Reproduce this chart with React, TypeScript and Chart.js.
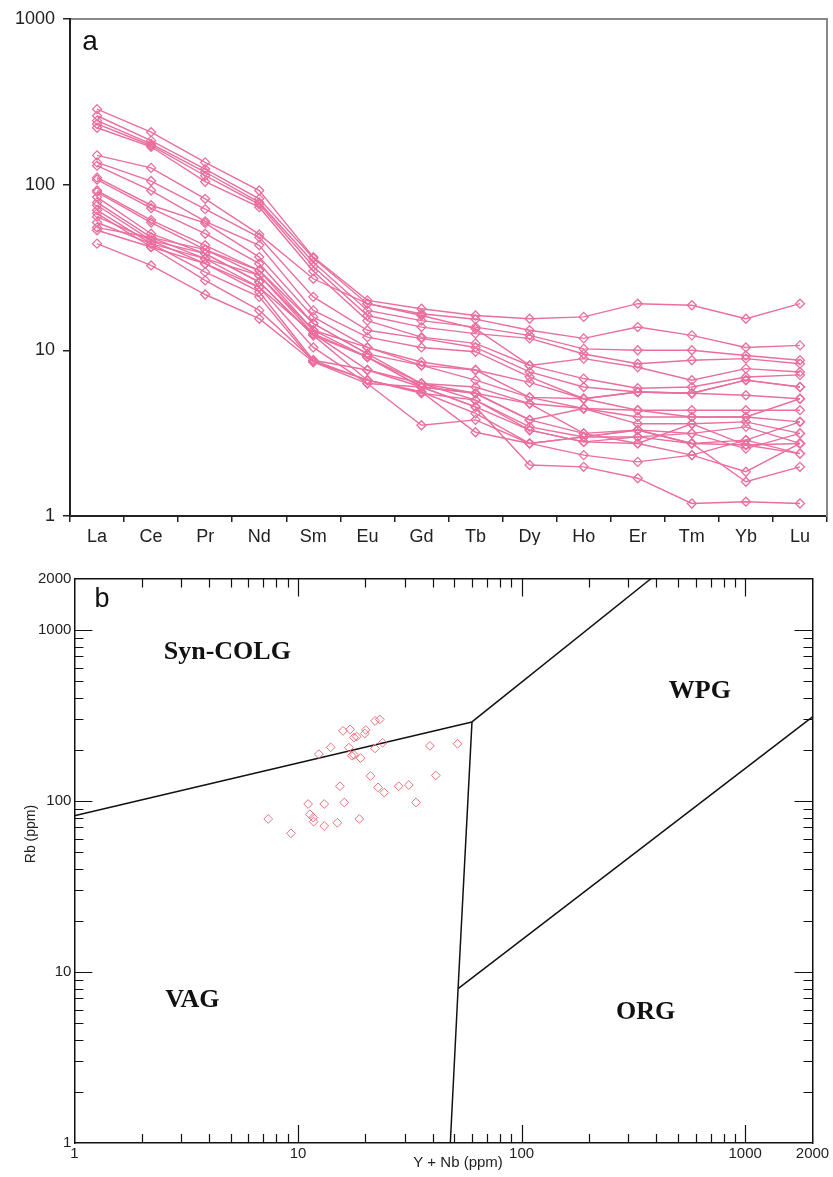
import React, { useEffect, useRef } from "react";
import { Chart, registerables } from "chart.js";

Chart.register(...registerables);

// ---------- Panel a: chondrite-normalised REE patterns ----------
const elements = ["La", "Ce", "Pr", "Nd", "Sm", "Eu", "Gd", "Tb", "Dy", "Ho", "Er", "Tm", "Yb", "Lu"];
const reeTickValues = [1, 10, 100, 1000];

const sample01 = [285, 207, 136, 92, 36.5, 20, 17.8, 16.2, 15.5, 15.9, 19.1, 18.7, 15.5, 19.1];
const sample02 = [260, 184, 124, 82, 36, 19.1, 16.6, 15.4, 13.2, 11.8, 13.8, 12.3, 10.4, 10.7];
const sample03 = [243, 176, 119, 78, 34, 17.4, 15.1, 13.8, 12.3, 10.2, 10.0, 10.0, 9.3, 8.7];
const sample04 = [232, 172, 113, 76, 32, 16.2, 13.8, 12.6, 11.8, 9.5, 8.3, 8.7, 8.9, 8.3];
const sample05 = [220, 169, 104, 73, 30, 15.1, 12, 11, 8.1, 8.9, 7.9, 6.6, 7.75, 7.4];
const sample06 = [150, 126, 82, 50, 27, 19.1, 16.2, 13.5, 8.1, 6.75, 5.9, 6.0, 6.9, 7.1];
const sample07 = [136, 105, 71, 48, 21, 13.2, 11.8, 10.4, 7.4, 6.0, 5.6, 5.5, 6.6, 6.0];
const sample08 = [130, 92, 60, 43, 17.4, 12, 10.4, 9.8, 6.9, 5.1, 5.6, 5.5, 5.35, 5.1];
const sample09 = [110, 75, 58.5, 36.5, 15.9, 10.4, 8.5, 7.6, 6.4, 5.1, 4.35, 4.35, 4.35, 4.35];
const sample10 = [107, 72, 50.5, 33.3, 14.5, 9.5, 8.1, 6.6, 5.2, 4.45, 3.96, 3.96, 3.96, 3.7];
const sample11 = [92, 61, 43, 30.3, 13.2, 9.1, 6.3, 6.0, 4.77, 4.45, 3.6, 3.6, 3.7, 3.15];
const sample12 = [90, 59, 40.5, 28.3, 12.6, 7.6, 6.0, 5.5, 3.8, 3.15, 3.3, 3.15, 3.45, 2.74];
const sample13 = [84, 50.5, 38.3, 25.8, 12.3, 6.6, 5.5, 5.0, 3.45, 3.0, 3.0, 2.74, 2.87, 2.38];
const sample14 = [78, 48, 35.7, 24, 10.4, 6.3, 6.0, 4.55, 3.3, 2.8, 2.74, 3.6, 2.68, 2.74];
const sample15 = [75, 46, 33.3, 22.5, 8.7, 6.6, 5.6, 4.16, 2.74, 2.33, 2.12, 2.33, 1.85, 2.74];
const sample16 = [70, 44, 29.6, 21, 8.5, 6.3, 3.53, 3.8, 2.74, 3.0, 3.3, 2.74, 1.61, 1.98];
const sample17 = [67, 42, 26.4, 17.4, 8.7, 7.6, 6.3, 5.0, 3.3, 2.8, 3.0, 3.15, 2.55, 3.15];
const sample18 = [64, 46, 38.3, 25.8, 12.3, 9.1, 6.0, 5.5, 3.8, 4.45, 4.35, 3.96, 3.96, 5.1];
const sample19 = [59, 44, 35.7, 28.3, 13.2, 10.4, 8.1, 7.6, 5.2, 5.1, 5.6, 5.5, 6.6, 6.0];
const sample20 = [55, 48, 40.5, 30.3, 14.5, 9.5, 6.3, 5.5, 4.77, 3.15, 2.74, 2.33, 2.87, 3.7];
const sample21 = [53, 42, 33.3, 24, 12.6, 9.1, 6.0, 4.55, 2.03, 1.98, 1.69, 1.19, 1.22, 1.19];
const sample22 = [44, 32.5, 21.7, 15.5, 8.5, 6.6, 5.6, 3.2, 2.74, 3.0, 3.3, 2.74, 2.68, 2.38];

const reeSamples = [
  sample01, sample02, sample03, sample04, sample05, sample06, sample07, sample08,
  sample09, sample10, sample11, sample12, sample13, sample14, sample15, sample16,
  sample17, sample18, sample19, sample20, sample21, sample22,
];

// ---------- Panel b: Rb vs (Y + Nb) ----------
const yPlusNb = [
  15.9, 17.1, 17.8, 18.3, 20.1, 19.9, 22.1, 23.2, 14.0, 12.4, 16.9, 17.4, 17.8, 19.05,
  22.1, 23.9, 38.9, 51.7, 21.1, 15.4, 22.8, 24.3, 28.2, 31.3, 41.3, 33.7, 11.1, 13.1,
  16.1, 7.36, 11.3, 11.7, 11.75, 13.1, 15.0, 18.8, 9.3,
];
const rbPpm = [
  257, 262, 235, 238, 260, 248, 294, 300, 206, 188, 205, 184, 186, 178,
  203, 219, 210, 216, 140, 122, 120, 112, 122, 124, 141, 98, 96, 96,
  98, 78.5, 83.6, 80, 75.7, 71.4, 74.6, 78.5, 64.7,
];

const discTickValues = [1, 10, 100, 1000, 2000];

const lineVagSynX = [1, 60];
const lineVagSynY = [82, 290];
const lineSynWpgX = [60, 380];
const lineSynWpgY = [290, 2000];
const lineVagOrgX = [60, 52, 48];
const lineVagOrgY = [290, 8, 1];
const lineWpgOrgX = [52, 2000];
const lineWpgOrgY = [8, 310];

const regionNames = ["Syn-COLG", "WPG", "VAG", "ORG"];
const regionX = [4.83, 627, 3.37, 359];
const regionY = [743, 440, 6.86, 5.83];

const SANS = 'Arial, "Liberation Sans", sans-serif';
const SERIF = '"Times New Roman", "Liberation Serif", serif';
const REE_COLOR = "rgb(234,110,158)";
const DOT_COLOR = "rgb(232,112,124)";

const pairs = (xs: number[], ys: number[]) => xs.map((x, i) => ({ x, y: ys[i] }));

const minorLogVals: number[] = [];
for (const d of [1, 10, 100, 1000]) {
  for (let k = 2; k <= 9; k++) if (k * d < 2000) minorLogVals.push(k * d);
}
const majorLogVals = [10, 100, 1000];

const panelALabel = {
  id: "panelALabel",
  afterDraw(chart: any) {
    const { ctx } = chart;
    ctx.save();
    ctx.fillStyle = "#111";
    ctx.font = `28px ${SANS}`;
    ctx.textAlign = "center";
    ctx.textBaseline = "middle";
    ctx.fillText("a", 90, 42);
    ctx.restore();
  },
};

const panelBDecor = {
  id: "panelBDecor",
  afterDraw(chart: any) {
    const { ctx, chartArea } = chart;
    const { left, right, top, bottom } = chartArea;
    const sx = chart.scales.x;
    const sy = chart.scales.y;
    ctx.save();
    ctx.strokeStyle = "#111";
    ctx.lineWidth = 1.2;
    ctx.beginPath();
    const drawTicks = (vals: number[], len: number) => {
      for (const v of vals) {
        const px = Math.round(sx.getPixelForValue(v)) + 0.5;
        ctx.moveTo(px, bottom);
        ctx.lineTo(px, bottom - len);
        ctx.moveTo(px, top);
        ctx.lineTo(px, top + len);
        const py = Math.round(sy.getPixelForValue(v)) + 0.5;
        ctx.moveTo(left, py);
        ctx.lineTo(left + len, py);
        ctx.moveTo(right, py);
        ctx.lineTo(right - len, py);
      }
    };
    drawTicks(minorLogVals, 9);
    drawTicks(majorLogVals, 18);
    ctx.stroke();

    ctx.fillStyle = "#111";
    ctx.textAlign = "center";
    ctx.textBaseline = "middle";
    ctx.font = `27px ${SANS}`;
    ctx.fillText("b", 102, 55);

    ctx.font = `bold 26px ${SERIF}`;
    regionNames.forEach((name, i) => {
      ctx.fillText(name, sx.getPixelForValue(regionX[i]), sy.getPixelForValue(regionY[i]));
    });

    ctx.font = `15px ${SANS}`;
    ctx.fillStyle = "#222";
    ctx.fillText("Y + Nb (ppm)", 458, 618);

    ctx.save();
    ctx.translate(31, 289);
    ctx.rotate(-Math.PI / 2);
    ctx.font = `14px ${SANS}`;
    ctx.fillText("Rb (ppm)", 0, 0);
    ctx.restore();
    ctx.restore();
  },
};

function ReeChart() {
  const ref = useRef<HTMLCanvasElement>(null);
  useEffect(() => {
    const chart = new Chart(ref.current!, {
      type: "line",
      data: {
        labels: elements,
        datasets: reeSamples.map((s, i) => ({
          label: `S${i + 1}`,
          data: s,
          borderColor: REE_COLOR,
          borderWidth: 1.4,
          pointStyle: "rectRot",
          pointRadius: 4.5,
          pointBorderColor: REE_COLOR,
          pointBackgroundColor: "rgba(255,255,255,0)",
          pointBorderWidth: 1.3,
          tension: 0,
          fill: false,
        })),
      },
      options: {
        responsive: false,
        animation: false,
        devicePixelRatio: 1,
        layout: { padding: { top: 18, right: 6, left: 0, bottom: 0 } },
        plugins: { legend: { display: false }, tooltip: { enabled: false } },
        scales: {
          x: {
            type: "category",
            position: "bottom",
            offset: true,
            grid: { offset: true, drawOnChartArea: false, drawTicks: true, tickLength: 6, color: "#222", lineWidth: 1.5 },
            border: { display: true, color: "#222", width: 2 },
            ticks: { color: "#222", font: { size: 18, family: SANS }, padding: 4, autoSkip: false, maxRotation: 0 },
            afterFit: (s: any) => { s.height = 29; },
          },
          x2: {
            type: "category",
            position: "top",
            offset: true,
            grid: { display: false, drawOnChartArea: false, drawTicks: false },
            border: { display: true, color: "#888", width: 2 },
            ticks: { display: false },
            afterFit: (s: any) => { s.height = 0; },
          },
          y: {
            type: "logarithmic",
            position: "left",
            min: 1,
            max: 1000,
            grid: { drawOnChartArea: false, drawTicks: true, tickLength: 7, color: "#222", lineWidth: 1.5 },
            border: { display: true, color: "#222", width: 2 },
            ticks: { color: "#222", font: { size: 18, family: SANS }, padding: 8, callback: (v: any) => String(v) },
            afterBuildTicks: (s: any) => { s.ticks = reeTickValues.map((v) => ({ value: v })); },
            afterFit: (s: any) => { s.width = 70; },
          },
          y2: {
            type: "linear",
            position: "right",
            min: 0,
            max: 1,
            grid: { display: false, drawOnChartArea: false, drawTicks: false },
            border: { display: true, color: "#888", width: 2 },
            ticks: { display: false },
            afterFit: (s: any) => { s.width = 0; },
          },
        },
      },
      plugins: [panelALabel],
    } as any);
    return () => chart.destroy();
  }, []);
  return <canvas ref={ref} width={833} height={545} style={{ position: "absolute", left: 0, top: 0 }} />;
}

function DiscriminationChart() {
  const ref = useRef<HTMLCanvasElement>(null);
  useEffect(() => {
    const lineStyle = {
      showLine: true,
      pointRadius: 0,
      borderColor: "#111",
      borderWidth: 1.5,
      fill: false,
      tension: 0,
    };
    const chart = new Chart(ref.current!, {
      type: "scatter",
      data: {
        datasets: [
          {
            label: "samples",
            data: pairs(yPlusNb, rbPpm),
            pointStyle: "rectRot",
            pointRadius: 4.4,
            borderColor: DOT_COLOR,
            backgroundColor: "rgba(255,255,255,0)",
            borderWidth: 1,
          },
          { label: "VAG/syn-COLG", data: pairs(lineVagSynX, lineVagSynY), ...lineStyle },
          { label: "syn-COLG/WPG", data: pairs(lineSynWpgX, lineSynWpgY), ...lineStyle },
          { label: "VAG/ORG", data: pairs(lineVagOrgX, lineVagOrgY), ...lineStyle },
          { label: "WPG/ORG", data: pairs(lineWpgOrgX, lineWpgOrgY), ...lineStyle },
        ],
      },
      options: {
        responsive: false,
        animation: false,
        devicePixelRatio: 1,
        layout: { padding: { top: 33.5, right: 20.5, left: 0, bottom: 0 } },
        plugins: { legend: { display: false }, tooltip: { enabled: false } },
        scales: {
          x: {
            type: "logarithmic",
            position: "bottom",
            min: 1,
            max: 2000,
            grid: { display: false, drawOnChartArea: false, drawTicks: false },
            border: { display: true, color: "#111", width: 1.5 },
            ticks: { color: "#222", font: { size: 15, family: SANS }, padding: 2, maxRotation: 0, autoSkip: false, callback: (v: any) => String(v) },
            afterBuildTicks: (s: any) => { s.ticks = discTickValues.map((v) => ({ value: v })); },
            afterFit: (s: any) => { s.height = 34; },
          },
          x2: {
            type: "linear",
            position: "top",
            min: 0,
            max: 1,
            grid: { display: false, drawOnChartArea: false, drawTicks: false },
            border: { display: true, color: "#111", width: 1.5 },
            ticks: { display: false },
            afterFit: (s: any) => { s.height = 0; },
          },
          y: {
            type: "logarithmic",
            position: "left",
            min: 1,
            max: 2000,
            grid: { display: false, drawOnChartArea: false, drawTicks: false },
            border: { display: true, color: "#111", width: 1.5 },
            ticks: { color: "#222", font: { size: 15, family: SANS }, padding: 3, callback: (v: any) => String(v) },
            afterBuildTicks: (s: any) => { s.ticks = discTickValues.map((v) => ({ value: v })); },
            afterFit: (s: any) => { s.width = 74.4; },
          },
          y2: {
            type: "linear",
            position: "right",
            min: 0,
            max: 1,
            grid: { display: false, drawOnChartArea: false, drawTicks: false },
            border: { display: true, color: "#111", width: 1.5 },
            ticks: { display: false },
            afterFit: (s: any) => { s.width = 0; },
          },
        },
      },
      plugins: [panelBDecor],
    } as any);
    return () => chart.destroy();
  }, []);
  return <canvas ref={ref} width={833} height={632} style={{ position: "absolute", left: 0, top: 545 }} />;
}

export default function App() {
  return (
    <div style={{ position: "absolute", left: 0, top: 0, width: 833, height: 1177, background: "#fff", overflow: "hidden" }}>
      <ReeChart />
      <DiscriminationChart />
    </div>
  );
}
